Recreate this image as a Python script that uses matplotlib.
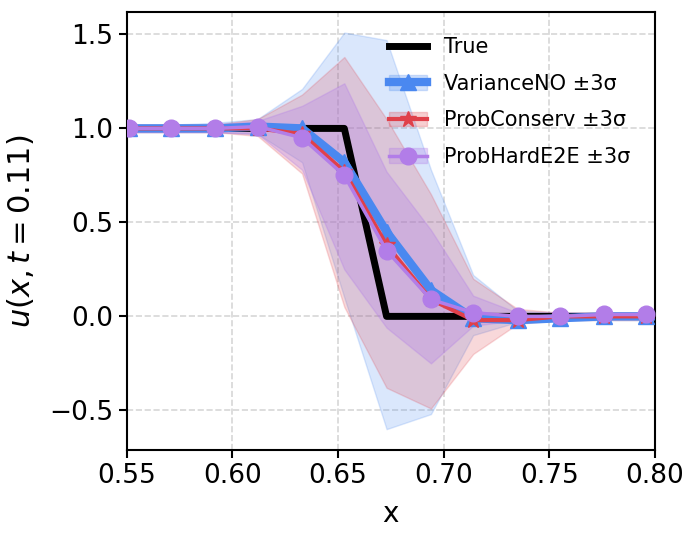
import numpy as np
import matplotlib
matplotlib.use("Agg")
import matplotlib.pyplot as plt
from matplotlib.patches import Patch
from matplotlib.lines import Line2D

# grid points (x) and values
x = [0.531, 0.551, 0.571, 0.592, 0.612, 0.633, 0.653, 0.673, 0.694, 0.714, 0.735, 0.755, 0.776, 0.796, 0.816]
u_true = [1, 1, 1, 1, 1, 1, 1, 0, 0, 0, 0, 0, 0, 0, 0]

var_mean = [1.0, 1.0, 1.0, 1.0, 1.01, 1.0, 0.82, 0.45, 0.14, -0.01, -0.02, -0.01, 0.0, 0.0, 0.0]
var_lo = [0.98, 0.98, 0.98, 0.98, 0.97, 0.82, 0.10, -0.60, -0.52, -0.10, -0.03, -0.02, -0.02, -0.02, -0.02]
var_hi = [1.02, 1.02, 1.02, 1.03, 1.05, 1.21, 1.51, 1.47, 0.78, 0.22, 0.03, 0.02, 0.02, 0.02, 0.02]

pc_mean = [1.0, 1.0, 1.0, 1.0, 1.0, 0.97, 0.77, 0.38, 0.09, -0.02, -0.02, 0.0, 0.0, 0.0, 0.0]
pc_lo = [0.98, 0.98, 0.98, 0.98, 0.96, 0.76, 0.05, -0.38, -0.49, -0.20, -0.04, -0.02, -0.02, -0.02, -0.02]
pc_hi = [1.02, 1.02, 1.02, 1.02, 1.05, 1.18, 1.38, 1.05, 0.65, 0.20, 0.04, 0.02, 0.02, 0.02, 0.02]

ph_mean = [1.0, 1.0, 1.0, 1.0, 1.01, 0.95, 0.75, 0.35, 0.09, 0.02, 0.0, 0.0, 0.01, 0.01, 0.01]
ph_lo = [0.98, 0.98, 0.98, 0.98, 0.97, 0.78, 0.25, -0.06, -0.25, -0.05, -0.02, -0.01, -0.01, -0.01, -0.01]
ph_hi = [1.02, 1.02, 1.02, 1.02, 1.04, 1.12, 1.24, 0.77, 0.46, 0.11, 0.02, 0.02, 0.02, 0.02, 0.02]

c_blue = "#4a88f0"
c_red = "#e0404a"
c_purple = "#b27de8"

fig = plt.figure(figsize=(6.85, 5.4), dpi=100)
ax = fig.add_axes([0.185, 0.167, 0.771, 0.811])

ax.grid(True, linestyle="--", color="#cccccc", linewidth=1.2, alpha=0.8)
ax.set_axisbelow(True)

ax.plot(x, u_true, color="black", lw=5, zorder=3)

ax.fill_between(x, var_lo, var_hi, color=c_blue, alpha=0.2, zorder=2)
ax.fill_between(x, pc_lo, pc_hi, color=c_red, alpha=0.2, zorder=2)
ax.fill_between(x, ph_lo, ph_hi, color=c_purple, alpha=0.3, zorder=2)

ax.plot(x, var_mean, color=c_blue, lw=6, marker="^", ms=11, zorder=4)
ax.plot(x, pc_mean, color=c_red, lw=3, marker="*", ms=12, zorder=5)
ax.plot(x, ph_mean, color=c_purple, lw=2.5, marker="o", ms=12, zorder=6)

ax.set_xlim(0.55, 0.80)
ax.set_ylim(-0.71, 1.62)
ax.set_xticks([0.55, 0.60, 0.65, 0.70, 0.75, 0.80])
ax.set_yticks([-0.5, 0.0, 0.5, 1.0, 1.5])
ax.tick_params(labelsize=19, width=1.5, length=6)
for s in ax.spines.values():
    s.set_linewidth(1.5)

ax.set_xlabel("x", fontsize=20, labelpad=8)
ax.set_ylabel(r"$u(x, t = 0.11)$", fontsize=22, labelpad=10)

handles = [
    Line2D([], [], color="black", lw=5),
    (Patch(color=c_blue, alpha=0.25), Line2D([], [], color=c_blue, lw=6, marker="^", ms=11)),
    (Patch(color=c_red, alpha=0.25), Line2D([], [], color=c_red, lw=3, marker="*", ms=12)),
    (Patch(color=c_purple, alpha=0.3), Line2D([], [], color=c_purple, lw=2.5, marker="o", ms=12)),
]
labels = ["True", "VarianceNO ±3σ", "ProbConserv ±3σ", "ProbHardE2E ±3σ"]
ax.legend(handles, labels, loc="upper right", frameon=False, fontsize=15,
          handlelength=1.8, borderaxespad=0.8, labelspacing=0.8)

fig.savefig("out.png", dpi=100)
